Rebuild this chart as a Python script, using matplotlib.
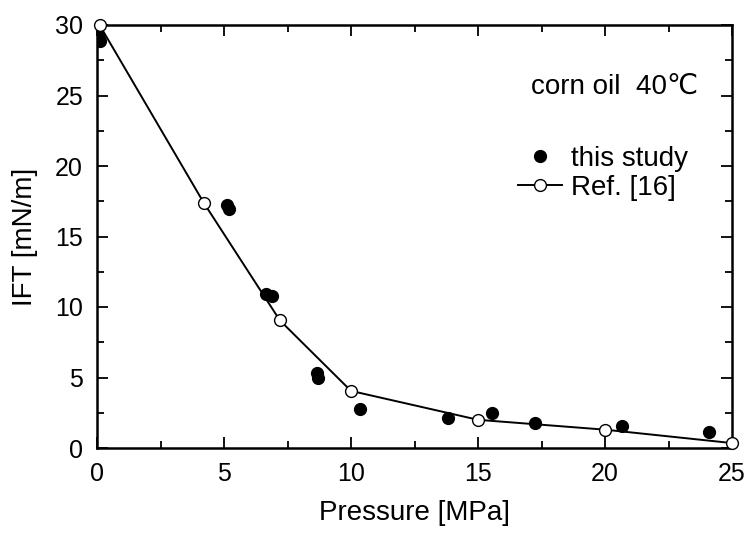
import numpy as np
import matplotlib.pyplot as plt
from matplotlib.ticker import MultipleLocator

plt.rcParams['font.family'] = ['Liberation Sans', 'DejaVu Sans']

# ------------------------------------------------------------
# data
# ------------------------------------------------------------
study_p   = [0.05, 0.08, 0.1, 5.1, 5.2, 6.65, 6.9, 8.65, 8.7, 10.35, 13.8, 15.55, 17.25, 20.65, 24.1]
study_ift = [29.3, 29.0, 28.9, 17.2, 16.95, 10.9, 10.75, 5.3, 4.95, 2.8, 2.15, 2.45, 1.8, 1.55, 1.1]

ref_p   = [0.1, 4.2, 7.2, 10.0, 15.0, 20.0, 25.0]
ref_ift = [30.0, 17.4, 9.05, 4.05, 2.0, 1.3, 0.35]

W, H = 749, 537
fig = plt.figure(figsize=(W/100, H/100), dpi=100)
ax = fig.add_axes([97/W, 1 - 448/H, (732-97)/W, (448-25)/H])

ax.plot(study_p, study_ift, 'o', color='black', ms=8.5, ls='none',
        label='this study', zorder=3)
ax.plot(ref_p, ref_ift, '-o', color='black', lw=1.4, ms=8.5,
        mfc='white', mec='black', mew=1.0, label='Ref. [16]', zorder=4,
        clip_on=False)

ax.set_xlim(0, 25)
ax.set_ylim(0, 30)
ax.xaxis.set_major_locator(MultipleLocator(5))
ax.xaxis.set_minor_locator(MultipleLocator(2.5))
ax.yaxis.set_major_locator(MultipleLocator(5))
ax.yaxis.set_minor_locator(MultipleLocator(2.5))
ax.tick_params(which='both', direction='in', top=True, right=True,
               width=1.3, labelsize=18, pad=10)
ax.tick_params(which='major', length=8)
ax.tick_params(which='minor', length=5)
for s in ax.spines.values():
    s.set_linewidth(1.8)

ax.set_xlabel('Pressure [MPa]', fontsize=20, labelpad=10)
ax.set_ylabel('IFT [mN/m]', fontsize=20, labelpad=12)

fig.text(698/W, 1 - 87/H, 'corn oil  40\u2103', ha='right', va='center',
         fontsize=20)
ax.legend(loc='upper left', bbox_to_anchor=(518/W, 1 - 146/H),
          bbox_transform=fig.transFigure, frameon=False, fontsize=20,
          handlelength=1.6, handletextpad=0.3, labelspacing=0.1,
          borderpad=0, borderaxespad=0)

fig.savefig('out.png', dpi=100)
